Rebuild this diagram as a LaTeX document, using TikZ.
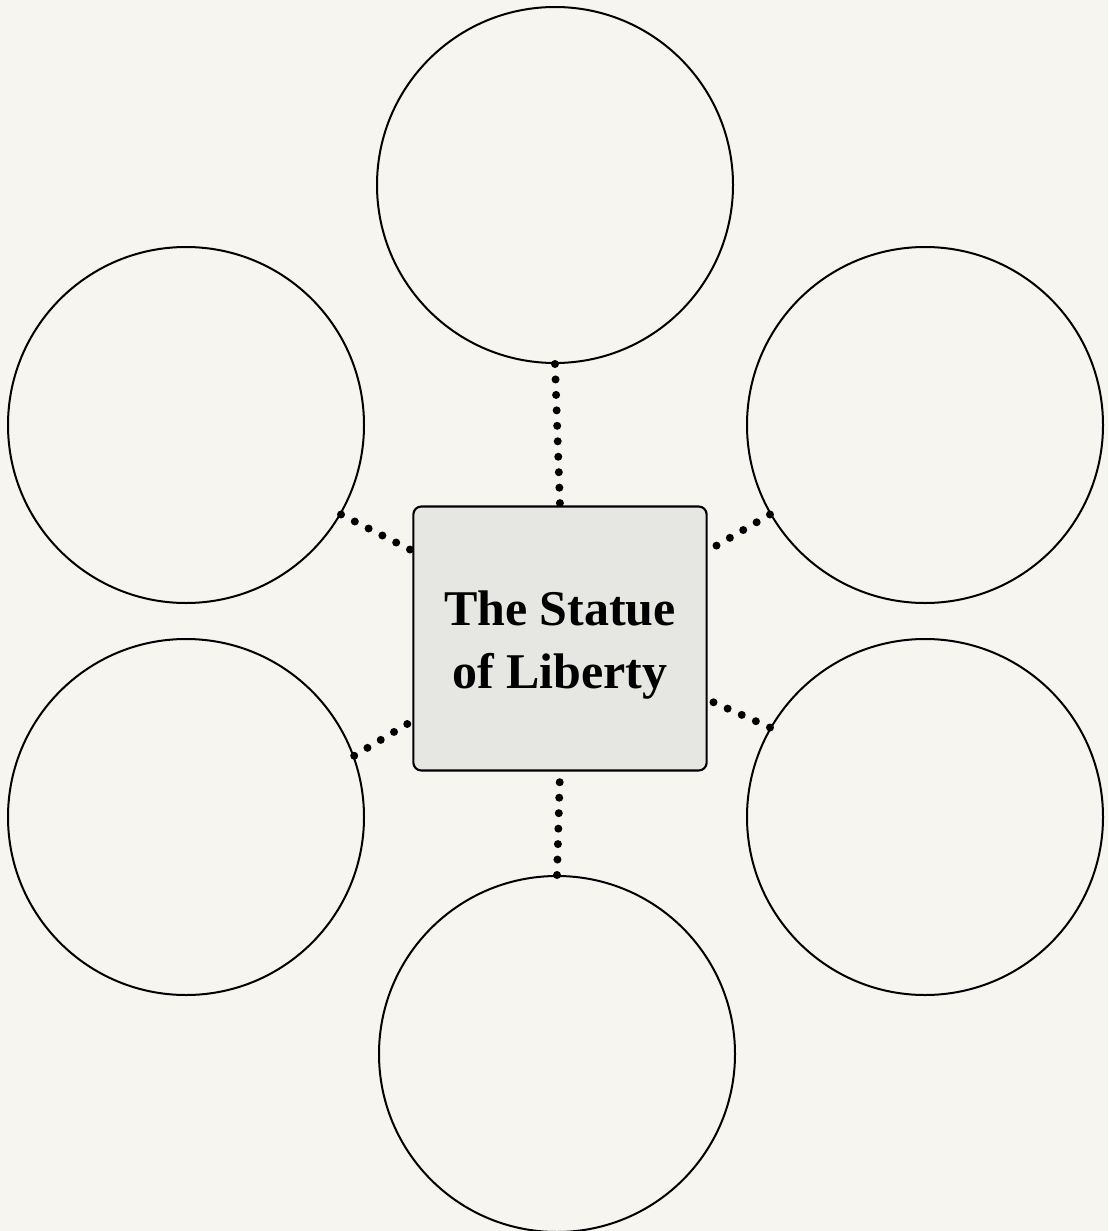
\documentclass[tikz,border=0pt]{standalone}
\usepackage{fontspec}
\setmainfont{Liberation Serif}
\usetikzlibrary{calc}
\definecolor{paper}{HTML}{F6F5F0}
\definecolor{boxfill}{HTML}{E6E7E2}
\tikzset{
  bubble/.style={circle, draw=black, line width=1.5pt, minimum size=267pt, inner sep=0pt},
  centerbox/.style={draw=black, line width=1.6pt, rounded corners=6pt, fill=boxfill,
    minimum width=220pt, minimum height=198pt, align=center, inner sep=0pt,
    font=\fontsize{37.5}{47}\selectfont\bfseries},
  dotline/.style={line width=6pt, line cap=round, dash pattern=on 0pt off 11.6pt}
}
\begin{document}
\begin{tikzpicture}[x=0.75pt, y=-0.75pt]
\fill[paper] (0,0) rectangle (1108,1231);
\useasboundingbox (0,0) rectangle (1108,1231);
\node[bubble] (top) at (555,185) {};
\node[bubble] (ul) at (186,425) {};
\node[bubble] (ur) at (925,425) {};
\node[bubble] (ll) at (186,817) {};
\node[bubble] (lr) at (925,817) {};
\node[bubble] (bot) at (557,1054) {};
\node[centerbox] (box) at (560,638.5) {};
\node[font=\fontsize{37.5}{47}\selectfont\bfseries, align=center, inner sep=0pt] (title) at (560,645) {The Statue\\of Liberty};
\coordinate (bl1) at ($(box.north west)!0.17!(box.south west)$);
\coordinate (bl2) at ($(box.north west)!0.81!(box.south west)$);
\coordinate (br1) at ($(box.north east)!0.17!(box.south east)$);
\coordinate (br2) at ($(box.north east)!0.73!(box.south east)$);
\draw[dotline] (top.south) -- (box.north);
\draw[dotline] (bot.north) -- (box.south);
\draw[dotline] (ul.-30) -- (bl1);
\draw[dotline] (ll.20) -- (bl2);
\draw[dotline] (ur.210) -- (br1);
\draw[dotline] (lr.150) -- (br2);
\end{tikzpicture}
\end{document}
